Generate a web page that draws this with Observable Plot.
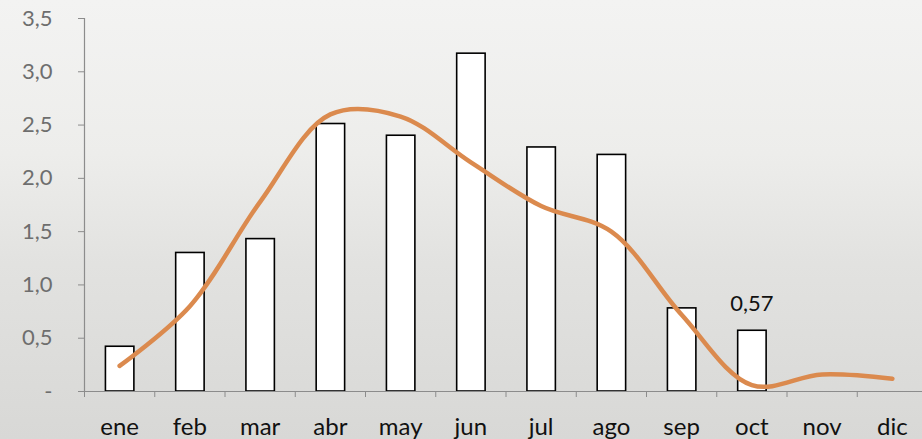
<!DOCTYPE html>
<html>
<head>
<meta charset="utf-8">
<script src="https://cdn.jsdelivr.net/npm/d3@7"></script>
<script src="https://cdn.jsdelivr.net/npm/@observablehq/plot@0.6"></script>
<style>
  html, body { margin: 0; padding: 0; }
  body {
    width: 922px; height: 439px; overflow: hidden;
    background: linear-gradient(180deg, #f3f3f2 0%, #ededeb 35%, #e2e2e0 60%, #d8d8d6 100%);
  }
  #chart svg { display: block; }
</style>
</head>
<body>
<div id="chart"></div>
<script>
const months = ["ene","feb","mar","abr","may","jun","jul","ago","sep","oct","nov","dic"];
const barValues = [0.42, 1.30, 1.43, 2.51, 2.40, 3.17, 2.29, 2.22, 0.78, 0.57, null, null];
const lineValues = [0.24, 0.80, 1.78, 2.60, 2.58, 2.15, 1.74, 1.50, 0.72, 0.06, 0.16, 0.12];
const yTicks = [0, 0.5, 1.0, 1.5, 2.0, 2.5, 3.0, 3.5];
const labelMonth = "oct";
const labelText = "0,57";

const bars = months.map((m, i) => ({i, month: m, value: barValues[i]})).filter(d => d.value != null);
const line = months.map((m, i) => ({i, month: m, value: lineValues[i]}));
const labeled = bars.filter(d => d.month === labelMonth);
const boundaries = d3.range(months.length + 1);
const centers = months.map((m, i) => i + 0.5);

const fmtY = d => d === 0 ? "-" : d.toFixed(1).replace(".", ",");

const chart = Plot.plot({
  width: 922,
  height: 439,
  marginTop: 18,
  marginBottom: 48,
  marginLeft: 84,
  marginRight: 0,
  style: {background: "transparent", fontFamily: "Lato, 'Open Sans', sans-serif", overflow: "visible"},
  x: {type: "linear", domain: [0, months.length], range: [84, 927]},
  y: {domain: [0, 3.5], range: [391, 18]},
  marks: [
    Plot.axisY({ticks: yTicks, tickFormat: fmtY, tickSize: 6, tickPadding: 26, stroke: "#8c8c8c", fill: "#6e6e6e", fontSize: 22, label: null}),
    Plot.axisX({ticks: boundaries, tickFormat: () => "", tickSize: 6, stroke: "#8c8c8c", label: null}),
    Plot.axisX({ticks: centers, tickFormat: d => months[Math.floor(d)], tickSize: 0, tickPadding: 26, fill: "#111", fontSize: 24, label: null}),
    Plot.rectY(bars, {x1: d => d.i + 0.305, x2: d => d.i + 0.71, y1: 0, y2: "value", fill: "white", stroke: "black", strokeWidth: 1.6}),
    Plot.ruleX([0], {y1: 0, y2: 3.5, stroke: "#8c8c8c", strokeWidth: 1.2}),
    Plot.ruleY([0], {stroke: "#8c8c8c", strokeWidth: 1.2}),
    Plot.line(line, {x: d => d.i + 0.5, y: "value", curve: "catmull-rom", stroke: "#db8a4e", strokeWidth: 4.5, strokeLinecap: "round"}),
    Plot.text(labeled, {x: d => d.i + 0.5, y: "value", text: () => labelText, dy: -27, fontSize: 22, fill: "#111"})
  ]
});
document.getElementById("chart").appendChild(chart);
</script>
</body>
</html>
